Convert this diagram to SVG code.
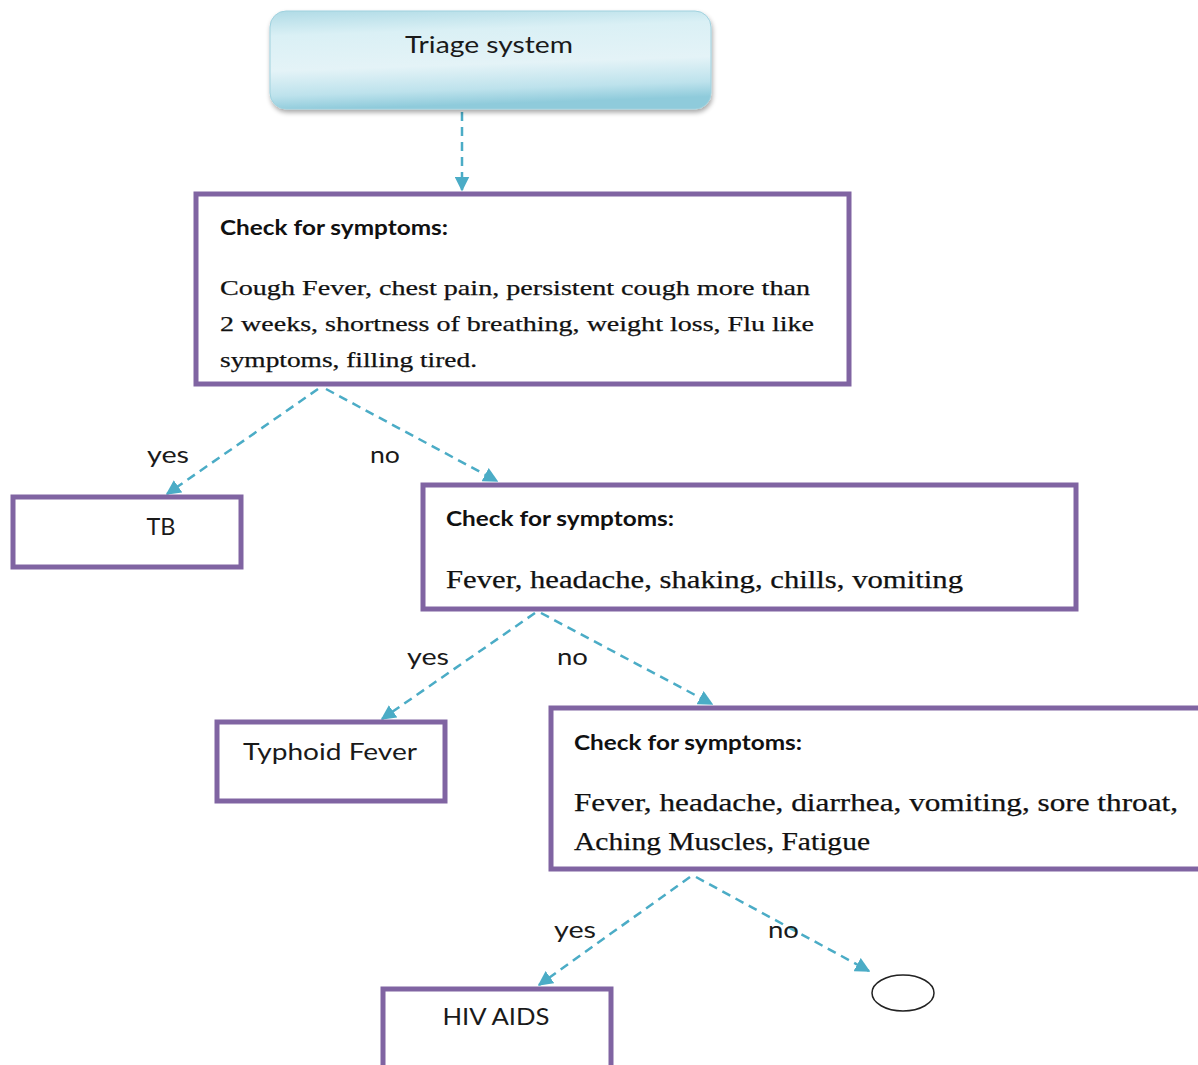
<svg xmlns="http://www.w3.org/2000/svg" width="1198" height="1065" viewBox="0 0 1198 1065">
  <style>
    .box { fill: #ffffff; stroke: #8064a2; stroke-width: 5; }
    .link { fill: none; stroke: #4bacc6; stroke-width: 2.5; stroke-dasharray: 9 6; }
    .sans { font-family: Lato, "Open Sans", "Liberation Sans", sans-serif; fill: #1a1a1a; }
    .head { font-family: Lato, "Open Sans", "Liberation Sans", sans-serif; font-weight: bold; font-size: 21px; fill: #111111; }
    .body { font-family: "Liberation Serif", "DejaVu Serif", serif; fill: #111111; stroke: #111111; stroke-width: 0.25; }
    .lbl { font-family: Lato, "Open Sans", "Liberation Sans", sans-serif; font-size: 24px; fill: #1a1a1a; }
  </style>
  <defs>
    <linearGradient id="triageFill" x1="0" y1="0" x2="0.15" y2="1">
      <stop offset="0" stop-color="#b0dbe6"/>
      <stop offset="0.25" stop-color="#daf0f5"/>
      <stop offset="0.6" stop-color="#e4f3f7"/>
      <stop offset="0.85" stop-color="#bde2ec"/>
      <stop offset="1" stop-color="#8fcbdb"/>
    </linearGradient>
    <filter id="softShadow" x="-10%" y="-20%" width="120%" height="150%">
      <feGaussianBlur in="SourceAlpha" stdDeviation="2.5"/>
      <feOffset dx="1" dy="3" result="b"/>
      <feComponentTransfer><feFuncA type="linear" slope="0.35"/></feComponentTransfer>
      <feMerge><feMergeNode/><feMergeNode in="SourceGraphic"/></feMerge>
    </filter>
    <marker id="arrow" viewBox="0 0 10 10" refX="9" refY="5" markerWidth="6" markerHeight="6" orient="auto" markerUnits="strokeWidth">
      <path d="M0,0 L10,5 L0,10 z" fill="#4bacc6"/>
    </marker>
  </defs>

  <!-- connectors -->
  <g id="connectors">
    <line class="link" x1="462" y1="112" x2="462" y2="190" marker-end="url(#arrow)"/>
    <line class="link" x1="318" y1="389" x2="167" y2="494" marker-end="url(#arrow)"/>
    <line class="link" x1="326" y1="389" x2="497" y2="481" marker-end="url(#arrow)"/>
    <line class="link" x1="535" y1="613" x2="382" y2="719" marker-end="url(#arrow)"/>
    <line class="link" x1="541" y1="613" x2="712" y2="704" marker-end="url(#arrow)"/>
    <line class="link" x1="690" y1="877" x2="539" y2="985" marker-end="url(#arrow)"/>
    <line class="link" x1="696" y1="877" x2="869" y2="971" marker-end="url(#arrow)"/>
  </g>

  <!-- branch labels -->
  <g id="labels">
    <text class="lbl" x="147" y="463" textLength="42" lengthAdjust="spacingAndGlyphs">yes</text>
    <text class="lbl" x="370" y="463" textLength="30" lengthAdjust="spacingAndGlyphs">no</text>
    <text class="lbl" x="407" y="665" textLength="42" lengthAdjust="spacingAndGlyphs">yes</text>
    <text class="lbl" x="557" y="665" textLength="31" lengthAdjust="spacingAndGlyphs">no</text>
    <text class="lbl" x="554" y="938" textLength="42" lengthAdjust="spacingAndGlyphs">yes</text>
    <text class="lbl" x="768" y="938" textLength="31" lengthAdjust="spacingAndGlyphs">no</text>
  </g>

  <g id="triage">
    <rect x="270" y="11" width="441" height="98" rx="16" ry="16" fill="url(#triageFill)" stroke="#9fd1de" stroke-width="1" filter="url(#softShadow)"/>
    <text class="sans" x="489" y="53" font-size="24" text-anchor="middle" textLength="168" lengthAdjust="spacingAndGlyphs">Triage system</text>
  </g>

  <g id="check1">
    <rect class="box" x="196" y="194" width="653" height="190"/>
    <text class="head" x="220" y="235" textLength="228" lengthAdjust="spacingAndGlyphs">Check for symptoms:</text>
    <text class="body" font-size="22" x="220" y="295" textLength="590" lengthAdjust="spacingAndGlyphs">Cough Fever, chest pain, persistent cough more than</text>
    <text class="body" font-size="22" x="220" y="331" textLength="594" lengthAdjust="spacingAndGlyphs">2 weeks, shortness of breathing, weight loss, Flu like</text>
    <text class="body" font-size="22" x="220" y="367" textLength="257" lengthAdjust="spacingAndGlyphs">symptoms, filling tired.</text>
  </g>

  <g id="tb">
    <rect class="box" x="13" y="497" width="228" height="70"/>
    <text class="sans" x="161" y="535" font-size="24" text-anchor="middle" textLength="29" lengthAdjust="spacingAndGlyphs">TB</text>
  </g>

  <g id="check2">
    <rect class="box" x="423" y="485" width="653" height="124"/>
    <text class="head" x="446" y="526" textLength="228" lengthAdjust="spacingAndGlyphs">Check for symptoms:</text>
    <text class="body" font-size="26" x="446" y="588" textLength="517" lengthAdjust="spacingAndGlyphs">Fever, headache, shaking, chills, vomiting</text>
  </g>

  <g id="typhoid">
    <rect class="box" x="217" y="722" width="228" height="79"/>
    <text class="sans" x="330" y="760" font-size="24" text-anchor="middle" textLength="174" lengthAdjust="spacingAndGlyphs">Typhoid Fever</text>
  </g>

  <g id="check3">
    <rect class="box" x="551" y="708" width="660" height="161"/>
    <text class="head" x="574" y="750" textLength="228" lengthAdjust="spacingAndGlyphs">Check for symptoms:</text>
    <text class="body" font-size="26" x="574" y="811" textLength="604" lengthAdjust="spacingAndGlyphs">Fever, headache, diarrhea, vomiting, sore throat,</text>
    <text class="body" font-size="26" x="574" y="850" textLength="296" lengthAdjust="spacingAndGlyphs">Aching Muscles, Fatigue</text>
  </g>

  <g id="hiv">
    <rect class="box" x="383" y="989" width="228" height="90"/>
    <text class="sans" x="496" y="1025" font-size="23" text-anchor="middle" textLength="107" lengthAdjust="spacingAndGlyphs">HIV AIDS</text>
  </g>

  <g id="end">
    <ellipse cx="903" cy="993" rx="31" ry="18" fill="#ffffff" stroke="#222222" stroke-width="1.5"/>
  </g>
</svg>
